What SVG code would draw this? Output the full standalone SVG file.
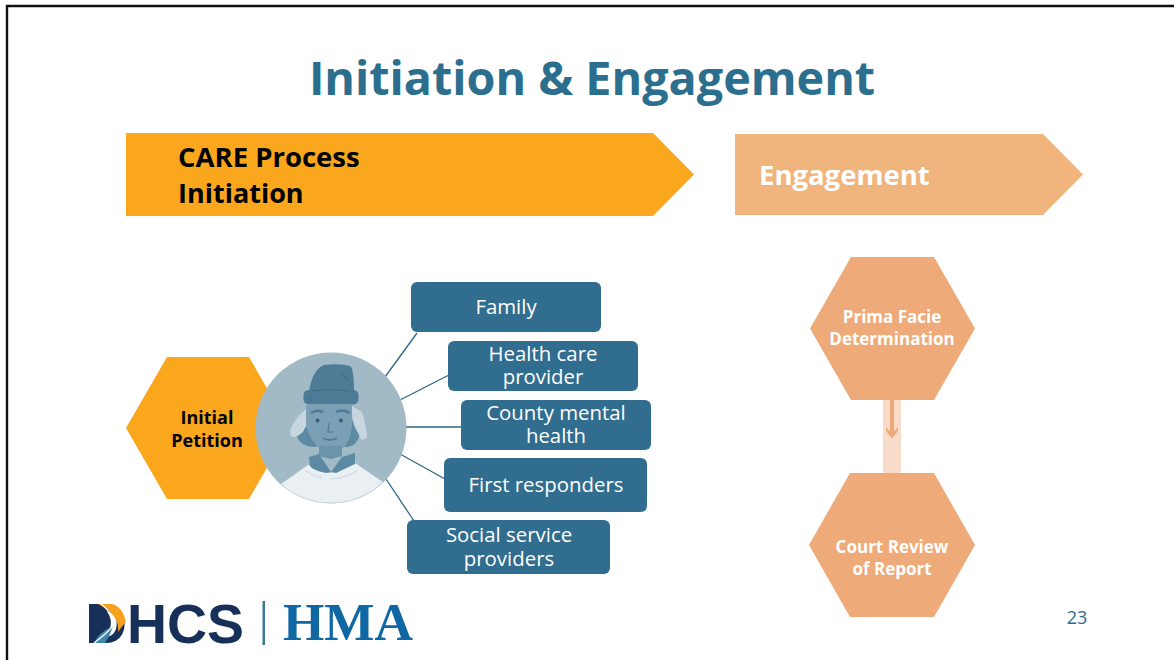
<svg xmlns="http://www.w3.org/2000/svg" width="1174" height="660" viewBox="0 0 1174 660">
<style>
text{font-family:"Open Sans","Noto Sans","Liberation Sans",sans-serif}
.box{fill:#316d8f}
.bt{fill:#fff;font-size:20.4px;text-anchor:middle}
.hx{fill:#eeaa78}
.ht{fill:#fff;font-size:17px;font-weight:700;text-anchor:middle}
.ln{stroke:#2f6684;stroke-width:1.3;fill:none}
.dh{font-family:"Liberation Sans",sans-serif;font-size:55px;font-weight:700;fill:#17305a}
.hm{font-family:"Liberation Serif",serif;font-size:53px;font-weight:700;fill:#0f67a4}
</style>
<rect width="1174" height="660" fill="#fff"/>
<path d="M7 660V6H1174" fill="none" stroke="#111" stroke-width="2.4"/>
<text id="title" x="592" y="95" font-size="46.700" font-weight="700" fill="#2c6e8e" text-anchor="middle">Initiation &amp; Engagement</text>

<g id="banner-initiation">
<path d="M126 133H653L694 174.500L653 216H126Z" fill="#faa71e"/>
<text x="178" y="167" font-size="27.500" font-weight="700" fill="#000">CARE Process</text>
<text x="178" y="203" font-size="27" font-weight="700" fill="#000">Initiation</text>
</g>
<g id="banner-engagement">
<path d="M735 134H1043L1083 174.500L1043 215H735Z" fill="#efb57d"/>
<text x="759" y="185" font-size="27.500" font-weight="700" fill="#fff">Engagement</text>
</g>

<g id="connectors">
<path class="ln" d="M385 377L417 333M400 400L449 375M406 427H461M400 454L445 479M386 479L414 521"/>
<rect x="883" y="400" width="18" height="73" fill="#f8dcc9"/>
<path d="M890 400H894V431.500L898 427.500V431L892 438.500L886 431V427.500L890 431.500Z" fill="#eeaa78"/>
</g>

<g id="initial-petition">
<path d="M126 428L167 357H249L290 428L249 499H167Z" fill="#faa71e"/>
<text x="207" y="424" font-size="18" font-weight="700" fill="#000" text-anchor="middle">Initial</text>
<text x="207" y="447" font-size="18" font-weight="700" fill="#000" text-anchor="middle">Petition</text>
</g>

<g id="person">
<circle cx="331" cy="428" r="75.500" fill="#a2b9c6"/>
<path d="M281 484L308 465L330 473L355 463L383 482A75.500 75.500 0 0 1 281 484Z" fill="#e9eff2"/>
<path d="M305 470Q312 476 322 478M330 479Q348 478 358 470" stroke="#d3dfe2" stroke-width="1.300" fill="none"/>
<path d="M297 437Q301 447 316 447L322 440H340L345 447Q358 447 360 432L352 420H308Z" fill="#5d8aa3"/>
<path d="M312 405Q298 413 291 428Q288 437 295 437Q303 434 305 428L314 414ZM350 405L362 412Q365 420 367 436Q365 441 361 439L354 425Z" fill="#c8d7df"/>
<path d="M306 405H352V425Q350 451 331 452Q313 451 306 425Z" fill="#7b9fb4"/>
<path d="M319 446H342V456L331 459L319 456Z" fill="#6b93aa"/>
<path d="M309 457L319 454L331 472L326 473Q312 470 310 466ZM355 453V464L336 473L331 472L342 457Z" fill="#5d8aa3"/>
<path d="M309 392Q312 370 324 365Q340 363 350 366Q354 368 354 392Z" fill="#4e7c97"/>
<rect x="303.500" y="390" width="55" height="14.500" rx="5" fill="#4e7c97"/>
<path d="M312 391Q332 388 350 391M341 373L349 381M308 395V402M311 395V402" stroke="#3f6d88" stroke-width="1" fill="none"/>
<path d="M311 413Q316 409 323 412M336 412Q343 409 350 413" stroke="#4e7c97" stroke-width="2.500" fill="none"/>
<circle cx="317.500" cy="420.500" r="2" fill="#34607a"/><circle cx="341" cy="420.500" r="2" fill="#34607a"/>
<path d="M329 423L328 432H333" stroke="#4e7c97" stroke-width="1.200" fill="none"/>
<path d="M323 438Q330 442 337 438" stroke="#4e7c97" stroke-width="1.800" fill="none"/>
</g>

<g id="family"><rect class="box" x="411" y="282" width="190" height="50" rx="6"/><text class="bt" x="506" y="314">Family</text></g>
<g id="health-care"><rect class="box" x="448" y="341" width="190" height="50" rx="6"/><text class="bt" x="543" y="361">Health care</text><text class="bt" x="543" y="384">provider</text></g>
<g id="county"><rect class="box" x="461" y="400" width="190" height="50" rx="6"/><text class="bt" x="556" y="420">County mental</text><text class="bt" x="556" y="443">health</text></g>
<g id="first-responders"><rect class="box" x="444" y="458" width="203" height="54" rx="6"/><text class="bt" x="546" y="492">First responders</text></g>
<g id="social"><rect class="box" x="407" y="520" width="203" height="54" rx="6"/><text class="bt" x="509" y="542">Social service</text><text class="bt" x="509" y="566">providers</text></g>

<g id="prima-facie">
<path class="hx" d="M810 328.500L851 257H934L975 328.500L934 400H851Z"/>
<text class="ht" x="892" y="323">Prima Facie</text>
<text class="ht" x="892" y="345">Determination</text>
</g>
<g id="court-review">
<path class="hx" d="M809 545L850 473H934L975 545L934 617H850Z"/>
<text class="ht" x="892" y="553">Court Review</text>
<text class="ht" x="892" y="575">of Report</text>
</g>

<g id="logo">
<text class="dh" x="87" y="643" textLength="157" lengthAdjust="spacingAndGlyphs">DHCS</text>
<path d="M89 604H100Q114 616 110 628Q106 636 98 643H89Z" fill="#17305a"/>
<path d="M98 604H112Q122 606 126 622Q122 626 118 632Q120 615 98 604Z" fill="#f8a11f"/>
<path d="M94 643Q98 633 113 626Q110 636 105 643Z" fill="#3d87a8"/>
<path d="M101 604Q116 616 112 627Q106 634 94 643" stroke="#fff" stroke-width="1.200" fill="none"/>
<rect x="262.500" y="601" width="2.500" height="44" fill="#3b7797"/>
<text class="hm" x="283" y="640" textLength="130" lengthAdjust="spacingAndGlyphs">HMA</text>
</g>
<text id="page-number" x="1077" y="624" font-size="18" fill="#2c6e8e" text-anchor="middle">23</text>
</svg>
